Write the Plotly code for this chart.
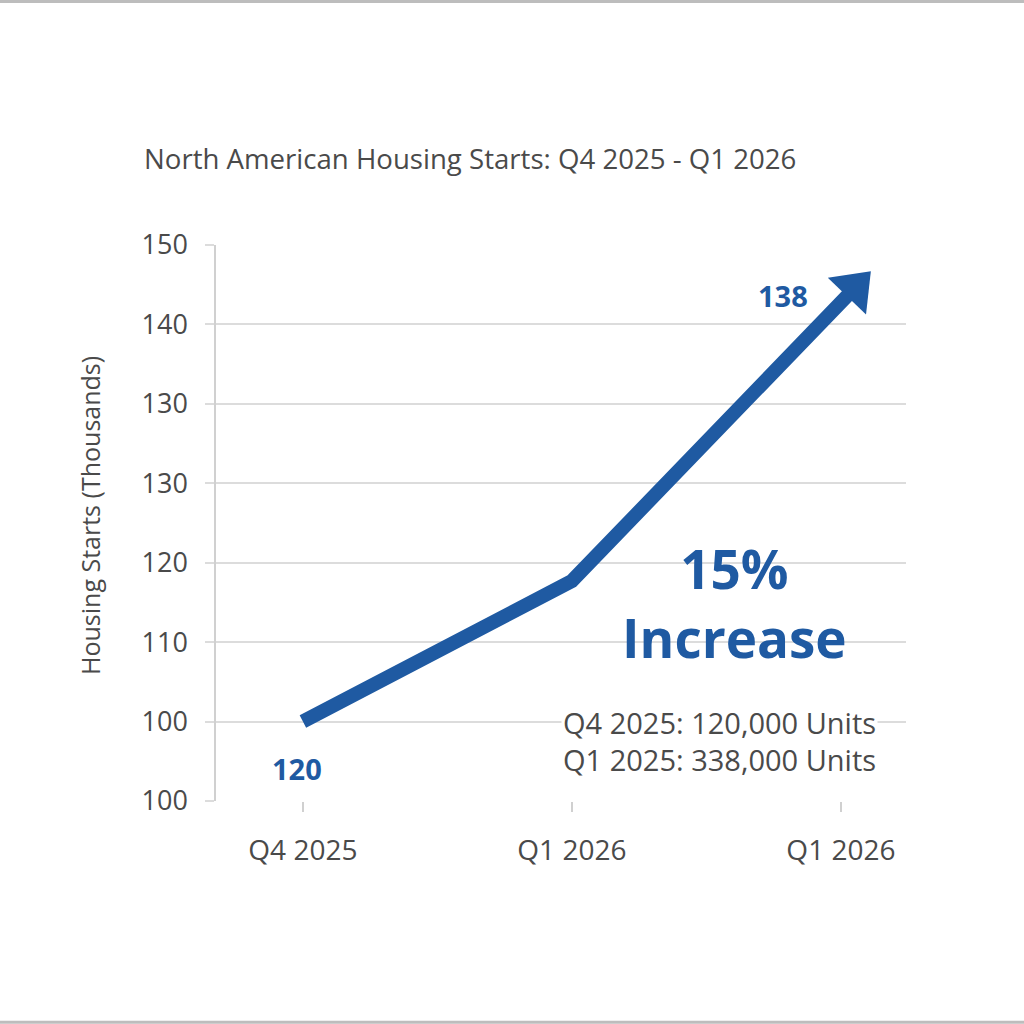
import plotly.graph_objects as go

# ---- data ----
x_labels = ["Q4 2025", "Q1 2026", "Q1 2026"]
x_ticks = [0, 1, 2]
y_tick_vals = [90, 100, 110, 120, 130, 140, 150, 160]
y_tick_text = ["100", "100", "110", "120", "130", "130", "140", "150"]
line_x = [0, 1, 2.052]
line_y = [100, 117.7, 154.6]
label_start = "120"
label_end = "138"
headline = ["15%", "Increase"]
notes = ["Q4 2025: 120,000 Units", "Q1 2025: 338,000 Units"]
title_text = "North American Housing Starts: Q4 2025 - Q1 2026"
y_title = "Housing Starts (Thousands)"

BLUE = "#1f5aa2"
GRAY = "#4a4a4a"
FONT = "Open Sans"

fig = go.Figure()
fig.add_trace(go.Scatter(
    x=line_x, y=line_y, mode="lines+markers",
    line=dict(color=BLUE, width=14),
    marker=dict(symbol=["circle", "circle", "triangle-up"], size=[0, 0, 46],
                angleref="previous", color=BLUE, opacity=1, line=dict(width=0)),
    hoverinfo="skip", showlegend=False,
))

# value labels
fig.add_annotation(x=line_x[0], y=line_y[0], text=f"<b>{label_start}</b>", showarrow=False,
                   xanchor="center", yanchor="middle",
                   yshift=-47, xshift=-6, font=dict(family=FONT, size=29, color=BLUE))
fig.add_annotation(x=1.785, y=153.6, text=f"<b>{label_end}</b>", showarrow=False,
                   xanchor="center", yanchor="middle",
                   font=dict(family=FONT, size=29, color=BLUE))

# headline (two lines in one text block)
fig.add_annotation(xref="paper", yref="paper", x=0.751, y=0.357,
                   text="<b>" + "<br>".join(headline) + "</b>",
                   xanchor="center", yanchor="middle", align="center",
                   showarrow=False, font=dict(family=FONT, size=53, color=BLUE))

# notes
for i, (t, yy) in enumerate(zip(notes, [0.142, 0.0755])):
    fig.add_annotation(xref="paper", yref="paper", x=0.500, y=yy, xanchor="left", yanchor="middle",
                       text=t, showarrow=False, bgcolor="white" if i == 0 else None,
                       font=dict(family=FONT, size=29, color=GRAY))

# title
fig.add_annotation(xref="paper", yref="paper", x=-0.107, y=1.156, xanchor="left", yanchor="middle",
                   text=title_text, showarrow=False, font=dict(family=FONT, size=27.6, color=GRAY))
# y title
fig.add_annotation(xref="paper", yref="paper", x=-0.183, y=0.514, textangle=-90,
                   xanchor="center", yanchor="middle",
                   text=y_title, showarrow=False, font=dict(family=FONT, size=25, color=GRAY))

# top/bottom borders
fig.add_shape(type="line", xref="paper", yref="paper", x0=-0.4, x1=1.3, y0=1.438, y1=1.438,
              line=dict(color="#bdbdbd", width=3))
fig.add_shape(type="line", xref="paper", yref="paper", x0=-0.4, x1=1.3, y0=-0.398, y1=-0.398,
              line=dict(color="#bdbdbd", width=3))

fig.update_layout(
    width=1024, height=1024,
    margin=dict(l=216, r=118, t=245, b=223),
    paper_bgcolor="white", plot_bgcolor="white",
    font=dict(family=FONT, color=GRAY),
    xaxis=dict(range=[-0.323, 2.242], tickvals=x_ticks, ticktext=x_labels,
               showgrid=False, zeroline=False, showline=False,
               ticks="outside", ticklen=10, tickcolor="#d0d0d0", tickwidth=1.5,
               ticklabelstandoff=14, tickfont=dict(size=28, color=GRAY)),
    yaxis=dict(range=[90, 160], tickvals=y_tick_vals, ticktext=y_tick_text,
               showgrid=True, gridcolor="#dcdcdc", gridwidth=1.5, zeroline=False,
               showline=True, linecolor="#d0d0d0", linewidth=1.5,
               ticks="outside", ticklen=9, tickcolor="#dcdcdc", tickwidth=1.5,
               ticklabelstandoff=12, tickfont=dict(size=27, color=GRAY)),
)

fig.write_html("out.html")
